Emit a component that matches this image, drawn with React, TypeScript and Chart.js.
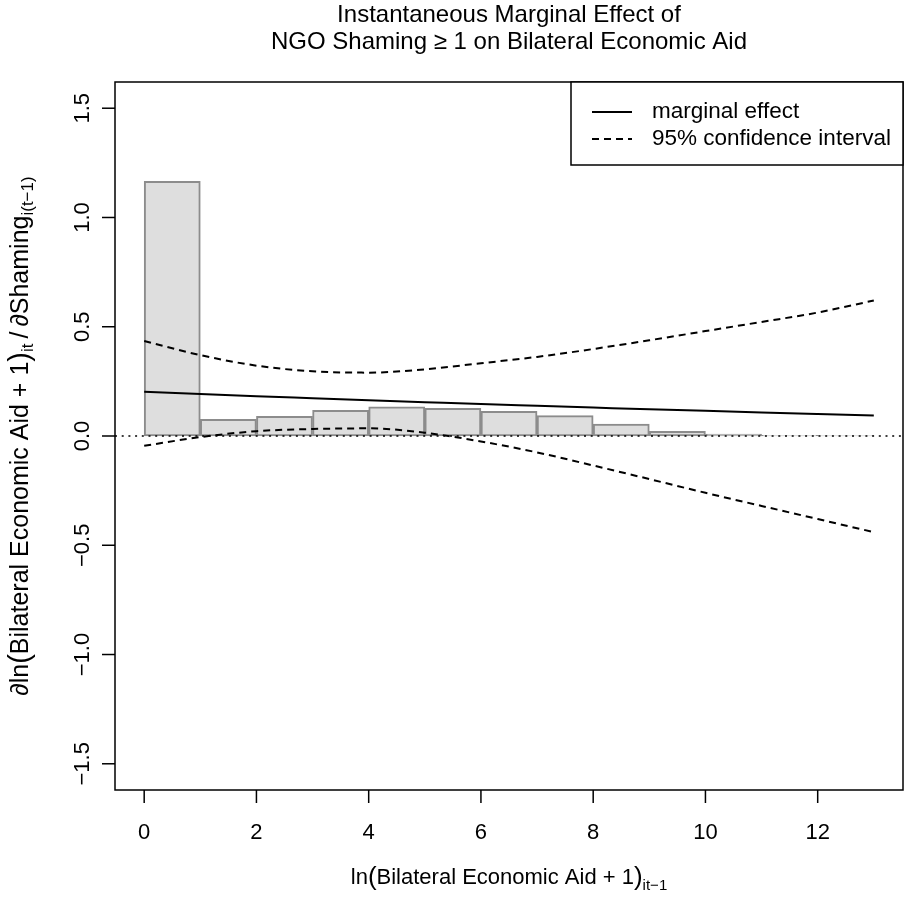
import React, { useEffect, useRef } from "react";
import { Chart, registerables } from "chart.js";

Chart.register(...registerables);

// ---- data ----
const histBinStarts = [0, 1, 2, 3, 4, 5, 6, 7, 8, 9, 10, 11, 12];
const histHeights = [1.165, 0.076, 0.09, 0.117, 0.134, 0.127, 0.113, 0.093, 0.055, 0.021, 0.009, 0.003, 0.002];

const gridX = [0, 1, 2, 3, 4, 5, 6, 7, 8, 9, 10, 11, 12, 13];
const marginalEffect = [0.203, 0.192, 0.182, 0.173, 0.164, 0.155, 0.146, 0.138, 0.13, 0.122, 0.115, 0.108, 0.101, 0.094];
const ciUpper = [0.435, 0.37, 0.322, 0.296, 0.29, 0.305, 0.333, 0.362, 0.398, 0.438, 0.48, 0.522, 0.565, 0.62];
const ciLower = [-0.045, -0.005, 0.022, 0.032, 0.035, 0.015, -0.025, -0.075, -0.135, -0.197, -0.26, -0.32, -0.38, -0.44];

const xTicks = [0, 2, 4, 6, 8, 10, 12];
const xTickLabels = ["0", "2", "4", "6", "8", "10", "12"];
const yTicks = [-1.5, -1, -0.5, 0, 0.5, 1, 1.5];
const yTickLabels = ["\u22121.5", "\u22121.0", "\u22120.5", "0.0", "0.5", "1.0", "1.5"];
const xLimits = [-0.52, 13.52];
const yLimits = [-1.62, 1.62];

const titleLines = ["Instantaneous Marginal Effect of", "NGO Shaming \u2265 1 on Bilateral Economic Aid"];
const legendLabels = ["marginal effect", "95% confidence interval"];

const FONT = "'Liberation Sans', Arial, Helvetica, sans-serif";
const DASH = [7, 5];

type Piece = { text: string; size: number; dy: number };

function drawPieces(ctx: CanvasRenderingContext2D, pieces: Piece[], cx: number, baseY: number) {
  let total = 0;
  for (const p of pieces) {
    ctx.font = `${p.size}px ${FONT}`;
    total += ctx.measureText(p.text).width;
  }
  let x = cx - total / 2;
  ctx.textAlign = "left";
  ctx.textBaseline = "alphabetic";
  for (const p of pieces) {
    ctx.font = `${p.size}px ${FONT}`;
    ctx.fillText(p.text, x, baseY + p.dy);
    x += ctx.measureText(p.text).width;
  }
}

const rStylePlugin = {
  id: "rStyle",
  afterDatasetsDraw(chart: any) {
    const { ctx, chartArea: a, scales } = chart;
    const y0 = scales.y.getPixelForValue(0);
    ctx.save();
    ctx.beginPath();
    ctx.rect(a.left, a.top, a.right - a.left, a.bottom - a.top);
    ctx.clip();
    ctx.strokeStyle = "#000";
    ctx.lineWidth = 1.5;
    ctx.setLineDash([2, 4.7]);
    ctx.beginPath();
    ctx.moveTo(a.left, y0);
    ctx.lineTo(a.right, y0);
    ctx.stroke();
    ctx.restore();
  },
  afterDraw(chart: any) {
    const { ctx, chartArea: a, scales } = chart;
    const xs = scales.x;
    const ys = scales.y;
    ctx.save();
    ctx.fillStyle = "#000";
    ctx.strokeStyle = "#000";
    ctx.lineWidth = 1.5;
    ctx.setLineDash([]);

    // box
    ctx.strokeRect(a.left, a.top, a.right - a.left, a.bottom - a.top);

    // x axis ticks + labels
    ctx.font = `22px ${FONT}`;
    ctx.textAlign = "center";
    ctx.textBaseline = "alphabetic";
    xTicks.forEach((v, i) => {
      const px = xs.getPixelForValue(v);
      ctx.beginPath();
      ctx.moveTo(px, a.bottom);
      ctx.lineTo(px, a.bottom + 13);
      ctx.stroke();
      ctx.fillText(xTickLabels[i], px, a.bottom + 49);
    });

    // y axis ticks + labels (rotated)
    yTicks.forEach((v, i) => {
      const py = ys.getPixelForValue(v);
      ctx.beginPath();
      ctx.moveTo(a.left, py);
      ctx.lineTo(a.left - 13, py);
      ctx.stroke();
      ctx.save();
      ctx.translate(a.left - 26, py);
      ctx.rotate(-Math.PI / 2);
      ctx.font = `22px ${FONT}`;
      ctx.textAlign = "center";
      ctx.textBaseline = "alphabetic";
      ctx.fillText(yTickLabels[i], 0, 0);
      ctx.restore();
    });

    const cx = (a.left + a.right) / 2;
    const cy = (a.top + a.bottom) / 2;

    // title
    ctx.font = `24px ${FONT}`;
    ctx.textAlign = "center";
    ctx.textBaseline = "alphabetic";
    ctx.fillText(titleLines[0], cx, 22);
    ctx.fillText(titleLines[1], cx, 49);

    // x title
    drawPieces(
      ctx,
      [
        { text: "ln", size: 22, dy: 0 },
        { text: "(", size: 26, dy: 1 },
        { text: "Bilateral Economic Aid + 1", size: 22, dy: 0 },
        { text: ")", size: 26, dy: 1 },
        { text: "it\u22121", size: 15, dy: 6 },
      ],
      cx,
      884
    );

    // y title (rotated)
    ctx.save();
    ctx.translate(28, cy);
    ctx.rotate(-Math.PI / 2);
    drawPieces(
      ctx,
      [
        { text: "\u2202ln", size: 25, dy: 0 },
        { text: "(", size: 29, dy: 1 },
        { text: "Bilateral Economic Aid + 1", size: 25, dy: 0 },
        { text: ")", size: 29, dy: 1 },
        { text: "it", size: 17, dy: 5 },
        { text: "\u2009/\u2009\u2202Shaming", size: 25, dy: 0 },
        { text: "i(t\u22121)", size: 17, dy: 5 },
      ],
      0,
      0
    );
    ctx.restore();

    // legend
    const lx0 = 571;
    const ly0 = a.top;
    const lx1 = a.right;
    const ly1 = 165;
    ctx.fillStyle = "#fff";
    ctx.fillRect(lx0, ly0, lx1 - lx0, ly1 - ly0);
    ctx.strokeStyle = "#000";
    ctx.lineWidth = 1.5;
    ctx.strokeRect(lx0, ly0, lx1 - lx0, ly1 - ly0);
    const rows = [112, 139];
    ctx.lineWidth = 2;
    ctx.beginPath();
    ctx.moveTo(592, rows[0]);
    ctx.lineTo(632, rows[0]);
    ctx.stroke();
    ctx.setLineDash(DASH);
    ctx.beginPath();
    ctx.moveTo(592, rows[1]);
    ctx.lineTo(632, rows[1]);
    ctx.stroke();
    ctx.setLineDash([]);
    ctx.fillStyle = "#000";
    ctx.font = `22.5px ${FONT}`;
    ctx.textAlign = "left";
    ctx.textBaseline = "middle";
    ctx.fillText(legendLabels[0], 652, rows[0]);
    ctx.fillText(legendLabels[1], 652, rows[1]);

    ctx.restore();
  },
};

export default function App() {
  const canvasRef = useRef<HTMLCanvasElement | null>(null);

  useEffect(() => {
    const canvas = canvasRef.current;
    if (!canvas) return;

    const histData = histBinStarts.map((s, i) => ({ x: s + 0.5, y: histHeights[i] }));
    const toPts = (arr: number[]) => gridX.map((x, i) => ({ x, y: arr[i] }));

    const chart = new Chart(canvas, {
      type: "bar",
      data: {
        datasets: [
          {
            type: "bar",
            label: "histogram",
            data: histData as any,
            backgroundColor: "#dedede",
            borderColor: "#8c8c8c",
            borderWidth: 2,
            borderSkipped: false,
            barPercentage: 1,
            categoryPercentage: 1,
            order: 3,
          } as any,
          {
            type: "line",
            label: legendLabels[0],
            data: toPts(marginalEffect) as any,
            borderColor: "#000",
            borderWidth: 2,
            pointRadius: 0,
            cubicInterpolationMode: "monotone",
            fill: false,
            order: 1,
          } as any,
          {
            type: "line",
            label: "upper",
            data: toPts(ciUpper) as any,
            borderColor: "#000",
            borderWidth: 2,
            borderDash: DASH,
            pointRadius: 0,
            cubicInterpolationMode: "monotone",
            fill: false,
            order: 1,
          } as any,
          {
            type: "line",
            label: "lower",
            data: toPts(ciLower) as any,
            borderColor: "#000",
            borderWidth: 2,
            borderDash: DASH,
            pointRadius: 0,
            cubicInterpolationMode: "monotone",
            fill: false,
            order: 1,
          } as any,
        ],
      },
      options: {
        animation: false,
        responsive: false,
        devicePixelRatio: 1,
        layout: { padding: { left: 115, top: 82, right: 5, bottom: 109 } },
        plugins: {
          legend: { display: false },
          title: { display: false },
          tooltip: { enabled: false },
        },
        scales: {
          x: {
            type: "linear",
            min: xLimits[0],
            max: xLimits[1],
            offset: false,
            display: false,
          },
          y: {
            type: "linear",
            min: yLimits[0],
            max: yLimits[1],
            display: false,
          },
        },
      },
      plugins: [rStylePlugin],
    });

    return () => chart.destroy();
  }, []);

  return (
    <div style={{ position: "fixed", left: 0, top: 0, width: 908, height: 899, background: "#fff" }}>
      <canvas ref={canvasRef} width={908} height={899} style={{ display: "block" }} />
    </div>
  );
}
